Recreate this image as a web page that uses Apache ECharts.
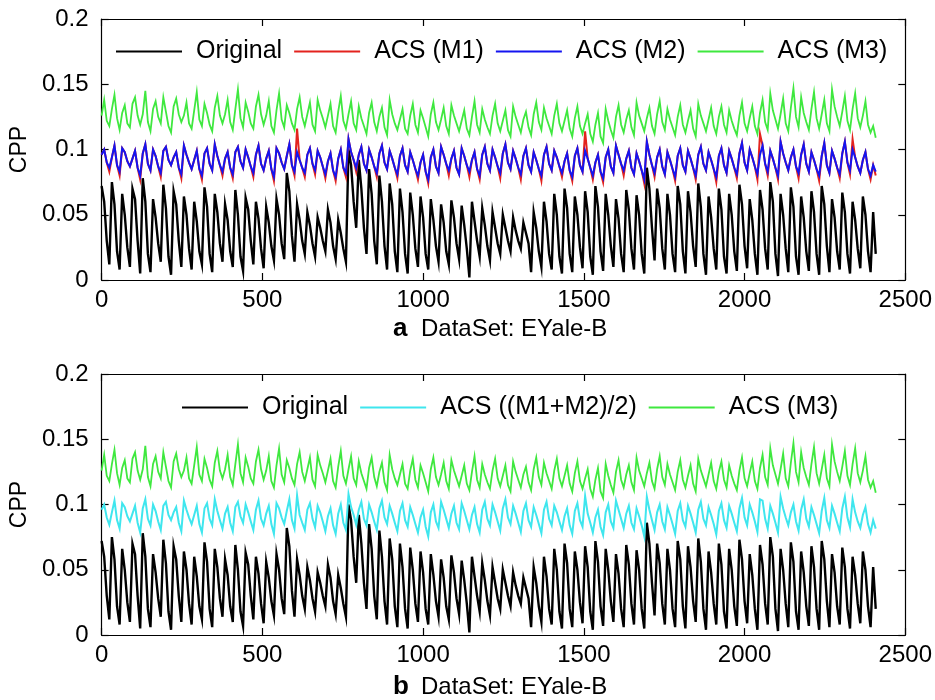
<!DOCTYPE html>
<html>
<head>
<meta charset="utf-8">
<title>CPP - DataSet: EYale-B</title>
<script src="https://cdn.jsdelivr.net/npm/echarts@6/dist/echarts.min.js"></script>
<style>
  html, body { margin: 0; padding: 0; background: #fff; }
  #chart { width: 935px; height: 700px; }
</style>
</head>
<body>
<div id="chart"></div>
<script>
// Samples are stored every SAMPLE_STEP images along the data set.
const SAMPLE_STEP = 8;
const xTicks = [0, 500, 1000, 1500, 2000, 2500];
const yTicks = [0, 0.05, 0.1, 0.15, 0.2];

// CPP of the original images
const cppOriginal = [
  .072,.060,.030,.012, .075,.058,.022,.008, .066,.050,.025,.010, .070,.062,.030,.005,
  .078,.060,.020,.006, .062,.048,.028,.014, .073,.055,.018,.004, .068,.058,.030,.010,
  .064,.050,.024,.008, .060,.045,.022,.012, .071,.056,.020,.006, .066,.052,.028,.014,
  .058,.046,.022,.010, .069,.050,.018,.007, .063,.054,.030,.012, .060,.047,.024,.009,
  .056,.044,.026,.015, .062,.050,.028,.016, .082,.068,.034,.014, .058,.046,.030,.020,
  .052,.042,.028,.018, .048,.040,.030,.022, .054,.044,.026,.016, .046,.036,.024,.014,
  .100,.088,.060,.040, .092,.070,.040,.020, .085,.066,.030,.012, .080,.060,.026,.008,
  .074,.058,.022,.006, .070,.052,.020,.005, .067,.050,.024,.010, .064,.048,.020,.008,
  .062,.046,.026,.014, .058,.044,.022,.012, .061,.048,.028,.016, .057,.042,.024,.002,
  .060,.045,.030,.018, .055,.042,.026,.015, .052,.040,.028,.020, .050,.040,.030,.022,
  .048,.038,.030,.024, .044,.036,.028,.006, .052,.040,.022,.010, .060,.045,.020,.008,
  .066,.050,.018,.005, .070,.055,.020,.006, .064,.050,.025,.009, .068,.052,.018,.004,
  .072,.056,.022,.007, .066,.050,.026,.010, .062,.047,.020,.006, .069,.054,.024,.008,
  .065,.050,.020,.005, .086,.070,.040,.015, .070,.055,.024,.008, .066,.050,.020,.006,
  .072,.058,.022,.005, .068,.052,.026,.010, .074,.056,.020,.004, .064,.048,.024,.008,
  .070,.054,.018,.005, .066,.050,.022,.007, .073,.058,.026,.009, .062,.046,.020,.004,
  .069,.054,.024,.008, .075,.060,.020,.003, .066,.050,.024,.006, .071,.056,.018,.004,
  .064,.048,.022,.007, .068,.052,.020,.004, .072,.058,.026,.006, .062,.048,.022,.008,
  .067,.052,.020,.005, .060,.046,.024,.009, .064,.050,.022,.006, .052,.020
];

// CPP after ACS, method M1
const cppM1 = [
  .096,.100,.090,.083, .094,.103,.088,.080, .101,.098,.091,.087, .093,.099,.086,.077,
  .097,.104,.089,.084, .100,.095,.087,.079, .099,.102,.092,.088, .094,.098,.086,.078,
  .103,.096,.090,.085, .092,.099,.085,.077, .097,.101,.089,.084, .104,.095,.088,.080,
  .093,.098,.086,.078, .098,.102,.091,.086, .100,.094,.087,.079, .096,.103,.089,.084,
  .093,.099,.085,.076, .101,.097,.090,.085, .095,.104,.088,.080, .116,.092,.086,.079,
  .096,.101,.089,.081, .099,.094,.087,.078, .091,.097,.084,.076, .093,.100,.086,.079,
  .108,.098,.092,.083, .096,.102,.089,.084, .100,.094,.087,.079, .097,.103,.090,.085,
  .099,.093,.086,.078, .095,.101,.088,.083, .098,.092,.085,.077, .090,.096,.083,.074,
  .094,.100,.087,.082, .102,.096,.089,.080, .093,.099,.086,.081, .101,.095,.088,.079,
  .092,.098,.085,.077, .096,.102,.089,.084, .100,.094,.087,.078, .097,.104,.090,.085,
  .099,.093,.086,.077, .095,.101,.088,.083, .098,.092,.085,.076, .096,.102,.089,.084,
  .099,.094,.087,.079, .091,.097,.084,.076, .095,.101,.088,.083, .114,.093,.086,.077,
  .090,.096,.083,.075, .094,.100,.087,.082, .103,.096,.089,.080, .093,.099,.086,.081,
  .097,.091,.084,.074, .106,.096,.088,.079, .094,.100,.087,.081, .098,.092,.085,.076,
  .095,.101,.088,.083, .099,.093,.086,.077, .096,.102,.089,.084, .098,.092,.085,.075,
  .095,.101,.088,.082, .099,.093,.086,.078, .097,.105,.090,.084, .100,.094,.087,.077,
  .112,.103,.089,.080, .099,.093,.086,.077, .106,.097,.090,.084, .094,.100,.087,.078,
  .096,.104,.089,.083, .098,.092,.085,.076, .095,.105,.088,.082, .099,.093,.086,.078,
  .097,.106,.090,.081, .108,.094,.087,.082, .092,.098,.085,.077, .088,.080
];

// CPP after ACS, method M2
const cppM2 = [
  .096,.100,.090,.086, .094,.103,.088,.083, .101,.098,.091,.087, .093,.099,.086,.080,
  .097,.104,.089,.084, .100,.095,.087,.082, .099,.102,.092,.088, .094,.098,.086,.081,
  .103,.096,.090,.085, .092,.099,.085,.080, .097,.101,.089,.084, .104,.095,.088,.083,
  .093,.098,.086,.081, .098,.102,.091,.086, .100,.094,.087,.082, .096,.103,.089,.084,
  .093,.099,.085,.079, .101,.097,.090,.085, .095,.104,.088,.083, .098,.092,.086,.082,
  .096,.101,.089,.084, .099,.094,.087,.081, .091,.097,.084,.079, .093,.100,.086,.082,
  .108,.098,.092,.086, .096,.102,.089,.084, .100,.094,.087,.082, .097,.103,.090,.085,
  .099,.093,.086,.081, .095,.101,.088,.083, .098,.092,.085,.080, .090,.096,.083,.077,
  .094,.100,.087,.082, .102,.096,.089,.084, .093,.099,.086,.081, .101,.095,.088,.083,
  .092,.098,.085,.080, .096,.102,.089,.084, .100,.094,.087,.082, .097,.104,.090,.085,
  .099,.093,.086,.081, .095,.101,.088,.083, .098,.092,.085,.080, .096,.102,.089,.084,
  .099,.094,.087,.082, .091,.097,.084,.079, .095,.101,.088,.083, .099,.093,.086,.080,
  .090,.096,.083,.078, .094,.100,.087,.082, .103,.096,.089,.084, .093,.099,.086,.081,
  .097,.091,.084,.077, .106,.096,.088,.082, .094,.100,.087,.081, .098,.092,.085,.079,
  .095,.101,.088,.083, .099,.093,.086,.080, .096,.102,.089,.084, .098,.092,.085,.079,
  .095,.101,.088,.082, .099,.093,.086,.081, .097,.105,.090,.084, .100,.094,.087,.081,
  .096,.103,.089,.083, .099,.093,.086,.080, .106,.097,.090,.084, .094,.100,.087,.082,
  .096,.104,.089,.083, .098,.092,.085,.080, .095,.105,.088,.082, .099,.093,.086,.081,
  .097,.106,.090,.084, .100,.094,.087,.082, .092,.098,.085,.080, .088,.083
];

// CPP after ACS, method M3
const cppM3 = [
  .126,.138,.122,.118, .131,.142,.124,.115, .128,.134,.120,.117, .135,.140,.126,.119,
  .127,.145,.121,.114, .131,.137,.125,.120, .140,.129,.118,.113, .133,.139,.127,.121,
  .126,.136,.120,.116, .130,.144,.123,.118, .135,.128,.119,.114, .132,.141,.126,.120,
  .127,.138,.121,.115, .131,.146,.124,.117, .136,.129,.120,.116, .133,.142,.127,.119,
  .126,.137,.118,.113, .130,.143,.123,.117, .134,.128,.120,.115, .131,.140,.125,.118,
  .127,.136,.119,.114, .138,.130,.124,.117, .126,.135,.118,.113, .129,.141,.122,.116,
  .127,.137,.120,.115, .133,.124,.118,.112, .128,.136,.121,.114, .125,.132,.117,.111,
  .138,.127,.120,.115, .123,.131,.116,.112, .126,.135,.119,.113, .130,.124,.117,.110,
  .127,.136,.121,.115, .123,.132,.118,.112, .134,.126,.120,.114, .122,.130,.116,.111,
  .125,.137,.119,.113, .131,.123,.117,.112, .126,.135,.120,.114, .122,.130,.115,.110,
  .133,.125,.119,.113, .123,.129,.117,.111, .127,.136,.121,.115, .132,.124,.118,.112,
  .126,.135,.120,.114, .122,.130,.116,.110, .124,.133,.118,.112, .120,.127,.112,.106,
  .119,.128,.110,.105, .131,.122,.115,.109, .125,.134,.119,.113, .123,.130,.117,.111,
  .136,.126,.120,.114, .124,.132,.118,.112, .127,.137,.121,.115, .131,.123,.117,.111,
  .125,.134,.119,.113, .122,.130,.116,.110, .135,.126,.120,.114, .123,.132,.118,.112,
  .125,.133,.119,.113, .130,.122,.116,.111, .126,.136,.120,.114, .124,.133,.118,.112,
  .128,.138,.121,.115, .143,.130,.123,.116, .127,.139,.120,.114, .132,.147,.125,.117,
  .140,.128,.121,.115, .131,.144,.124,.116, .127,.138,.120,.114, .146,.133,.125,.118,
  .129,.141,.122,.115, .131,.143,.124,.117, .126,.137,.119,.113, .118,.109
];

// Average of the M1 and M2 results
const cppM12 = cppM1.map((v, i) => +((v + cppM2[i]) / 2).toFixed(4));

const topNames = ['Original', 'ACS (M1)', 'ACS (M2)', 'ACS (M3)'];
const bottomNames = ['Original', 'ACS ((M1+M2)/2)', 'ACS (M3)'];
const colors = {
  original: '#000000', m1: '#e3231e', m2: '#1414f0', m3: '#3fe83f', m12: '#3fe6ee'
};

const FONT = '"Liberation Sans", Arial, sans-serif';

function toPoints(values) {
  return values.map((v, i) => [i * SAMPLE_STEP, v]);
}

function lineSeries(name, values, color, gridIdx, width) {
  return {
    name: name,
    type: 'line',
    xAxisIndex: gridIdx * 2,
    yAxisIndex: gridIdx * 2,
    data: toPoints(values),
    showSymbol: false,
    symbol: 'none',
    animation: false,
    lineStyle: { color: color, width: width, join: 'miter' },
    itemStyle: { color: color },
    emphasis: { disabled: true }
  };
}

const axisLineStyle = { color: '#000', width: 1.2 };

function xAxes(gridIdx) {
  const base = {
    gridIndex: gridIdx, type: 'value',
    min: xTicks[0], max: xTicks[xTicks.length - 1], interval: xTicks[1] - xTicks[0],
    splitLine: { show: false },
    axisLine: { show: true, onZero: false, lineStyle: axisLineStyle },
    axisTick: { show: true, inside: true, length: 7, lineStyle: axisLineStyle }
  };
  return [
    Object.assign({}, base, {
      position: 'bottom',
      axisLabel: { color: '#000', fontSize: 24, fontFamily: FONT, margin: 8,
        formatter: v => String(v) }
    }),
    Object.assign({}, base, { position: 'top', axisLabel: { show: false } })
  ];
}

function yAxes(gridIdx) {
  const base = {
    gridIndex: gridIdx, type: 'value',
    min: yTicks[0], max: yTicks[yTicks.length - 1], interval: yTicks[1] - yTicks[0],
    splitLine: { show: false },
    axisLine: { show: true, onZero: false, lineStyle: axisLineStyle },
    axisTick: { show: true, inside: true, length: 7, lineStyle: axisLineStyle }
  };
  return [
    Object.assign({}, base, {
      position: 'left',
      name: 'CPP', nameLocation: 'middle', nameGap: 66, nameRotate: 90,
      nameTextStyle: { color: '#000', fontSize: 23, fontFamily: FONT },
      axisLabel: { color: '#000', fontSize: 24, fontFamily: FONT, margin: 13,
        formatter: v => String(+v.toFixed(2)) }
    }),
    Object.assign({}, base, { position: 'right', axisLabel: { show: false } })
  ];
}

function legend(names, left, top) {
  return {
    data: names, left: left, top: top,
    icon: 'rect', itemWidth: 66, itemHeight: 2, itemGap: 12,
    selectedMode: false,
    textStyle: { color: '#000', fontSize: 25, fontFamily: FONT, padding: [0, 0, 0, 9] }
  };
}

const chart = echarts.init(document.getElementById('chart'), null, { renderer: 'canvas' });

chart.setOption({
  backgroundColor: '#ffffff',
  animation: false,
  grid: [
    { left: 96, right: 29, top: 19, height: 261 },
    { left: 96, right: 29, top: 374, height: 261 }
  ],
  xAxis: xAxes(0).concat(xAxes(1)),
  yAxis: yAxes(0).concat(yAxes(1)),
  legend: [legend(topNames, 111, 34), legend(bottomNames, 177, 390)],
  graphic: [
    { type: 'text', left: 393, top: 316, style: { text: 'a', font: 'bold 26px ' + FONT, fill: '#000' } },
    { type: 'text', left: 421, top: 317, style: { text: 'DataSet: EYale-B', font: '24px ' + FONT, fill: '#000' } },
    { type: 'text', left: 393, top: 674, style: { text: 'b', font: 'bold 26px ' + FONT, fill: '#000' } },
    { type: 'text', left: 421, top: 675, style: { text: 'DataSet: EYale-B', font: '24px ' + FONT, fill: '#000' } }
  ],
  series: [
    lineSeries(topNames[0], cppOriginal, colors.original, 0, 2.4),
    lineSeries(topNames[1], cppM1, colors.m1, 0, 2),
    lineSeries(topNames[2], cppM2, colors.m2, 0, 2),
    lineSeries(topNames[3], cppM3, colors.m3, 0, 1.8),
    lineSeries(bottomNames[0], cppOriginal, colors.original, 1, 2.4),
    lineSeries(bottomNames[1], cppM12, colors.m12, 1, 2),
    lineSeries(bottomNames[2], cppM3, colors.m3, 1, 1.8)
  ]
});
</script>
</body>
</html>
